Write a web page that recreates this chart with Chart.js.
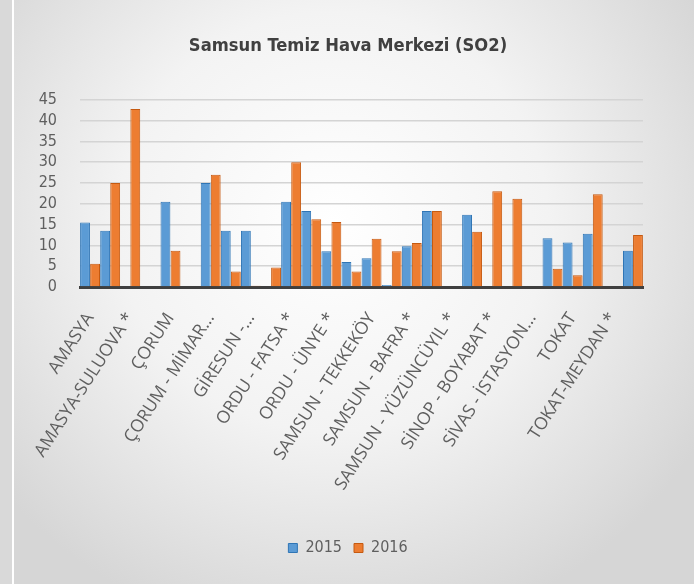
<!DOCTYPE html>
<html>
<head>
<meta charset="utf-8">
<script src="https://cdn.jsdelivr.net/npm/chart.js@4"></script>
<style>
  html, body { margin: 0; padding: 0; }
  body {
    width: 694px; height: 584px; position: relative; overflow: hidden;
    background: radial-gradient(ellipse 62% 72% at 48% 38%, #ffffff 0%, #f3f3f3 50%, #d6d6d6 100%);
  }
  #strip { position: absolute; left: 0; top: 0; width: 12px; height: 584px; background: #d9d9d9; }
  #line { position: absolute; left: 12px; top: 0; width: 2px; height: 584px; background: #ffffff; }
  #wrap { position: absolute; left: 0; top: 0; width: 694px; height: 584px; }
</style>
</head>
<body>
<div id="strip"></div>
<div id="line"></div>
<div id="wrap"><canvas id="c" width="694" height="584"></canvas></div>
<script>
const chartTitle = 'Samsun Temiz Hava Merkezi (SO2)';
const seriesNames = ['2015', '2016'];
// 28 stations; only every other name is legible in the picture (the rest are left blank)
const categories = [
  'AMASYA', '', 'AMASYA-SULUOVA *', '', 'ÇORUM', '', 'ÇORUM - MİMAR...', '',
  'GİRESUN -...', '', 'ORDU - FATSA *', '', 'ORDU - ÜNYE *', '',
  'SAMSUN - TEKKEKÖY', '', 'SAMSUN - BAFRA *', '', 'SAMSUN - YÜZÜNCÜYIL *', '',
  'SİNOP - BOYABAT *', '', 'SİVAS - İSTASYON...', '', 'TOKAT', '', 'TOKAT-MEYDAN *', ''
];
const values2015 = [15.5, 13.5, 0, 0, 20.5, 0, 25, 13.5, 13.5, 0, 20.5, 18.3, 8.6, 6, 6.9, 0.5, 9.8, 18.3, 0, 17.4, 0, 0, 0, 11.7, 10.7, 12.8, 0, 8.7];
const values2016 = [5.6, 25, 42.8, 0, 8.7, 0, 27, 3.7, 0.3, 4.7, 30, 16.3, 15.6, 3.7, 11.6, 8.6, 10.6, 18.3, 0, 13.3, 23, 21.2, 0, 4.4, 2.8, 22.3, 0, 12.5];
const yTicks = [0, 5, 10, 15, 20, 25, 30, 35, 40, 45];

const NARROW = "'Liberation Sans Narrow', 'DejaVu Sans Condensed', sans-serif";
const LABELFONT = "'Open Sans', 'DejaVu Sans', sans-serif";
const TXT = '#5f5f5f';

new Chart(document.getElementById('c'), {
  type: 'bar',
  data: {
    labels: categories,
    datasets: [
      { label: seriesNames[0], data: values2015, backgroundColor: '#5b9bd5', borderColor: '#2f75b5', borderWidth: 1, categoryPercentage: 1.0, barPercentage: 0.98 },
      { label: seriesNames[1], data: values2016, backgroundColor: '#ed7d31', borderColor: '#c55a11', borderWidth: 1, categoryPercentage: 1.0, barPercentage: 0.98 }
    ]
  },
  options: {
    responsive: false,
    animation: false,
    layout: { padding: { left: 38, right: 36, top: 0, bottom: 18 } },
    plugins: {
      title: {
        display: true, text: chartTitle, color: '#404040',
        font: { family: "'DejaVu Sans Condensed', sans-serif", size: 18.2, weight: 'bold' },
        padding: { top: 35, bottom: 43 }
      },
      legend: {
        position: 'bottom',
        labels: { color: TXT, font: { family: NARROW, size: 16 }, boxWidth: 9, boxHeight: 9, padding: 12 }
      },
      tooltip: { enabled: false }
    },
    scales: {
      x: {
        grid: { display: false },
        border: { display: true, color: '#3f3f3f', width: 3 },
        ticks: { color: TXT, font: { family: LABELFONT, size: 17.5 }, autoSkip: false, minRotation: 57, maxRotation: 57, padding: 14 },
        afterFit: (s) => { s.height = 241; }
      },
      y: {
        min: 0, max: 45,
        afterBuildTicks: (s) => { s.ticks = yTicks.map(v => ({ value: v })); },
        grid: { color: '#d4d4d4', lineWidth: 1.5, drawTicks: false },
        border: { display: false },
        ticks: { color: TXT, font: { family: NARROW, size: 16 }, padding: 23, autoSkip: false },
        afterFit: (s) => { s.width = 42; }
      },
      yRightSpace: {
        type: 'linear', position: 'right', display: true,
        grid: { display: false, drawTicks: false }, border: { display: false },
        ticks: { display: false },
        afterFit: (s) => { s.width = 15; }
      }
    }
  }
});
</script>
</body>
</html>
